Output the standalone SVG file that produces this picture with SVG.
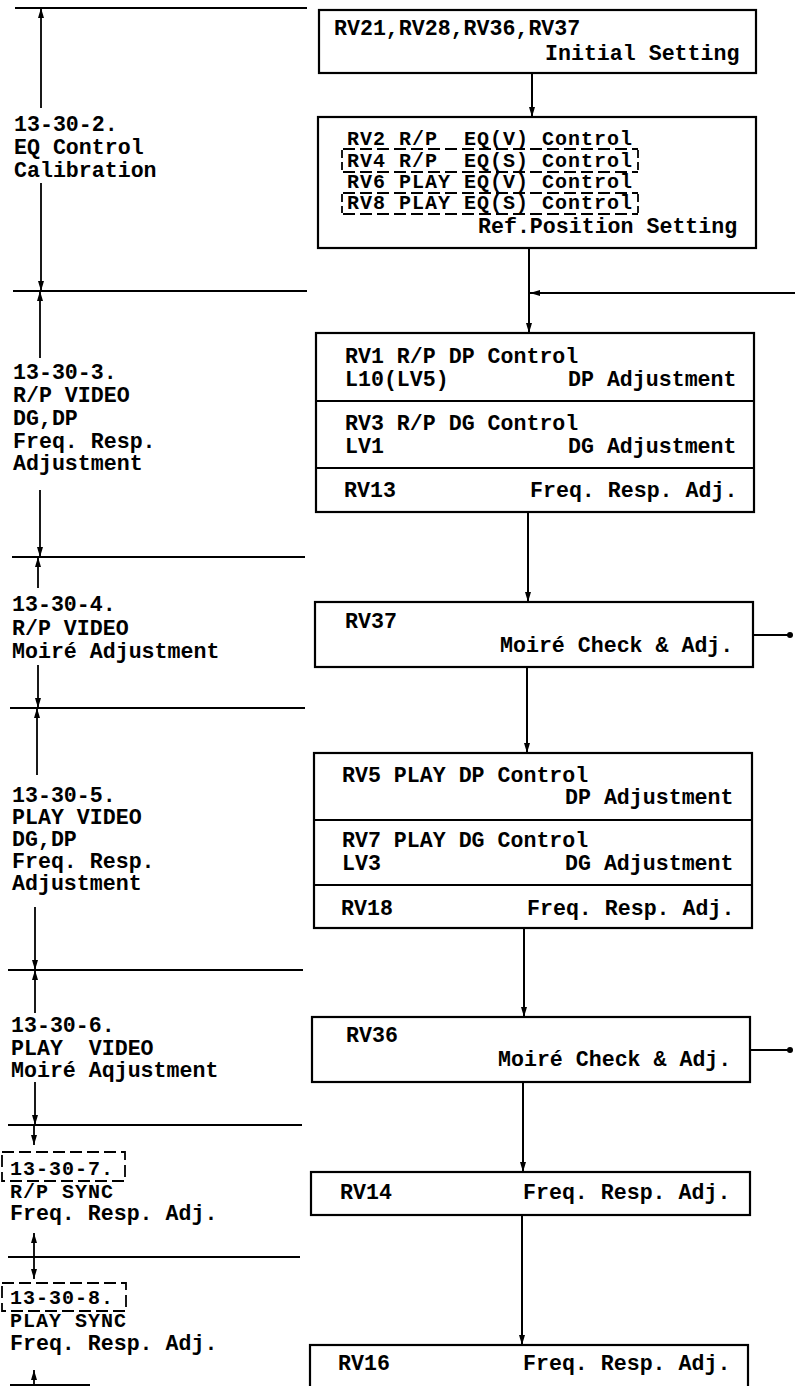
<svg xmlns="http://www.w3.org/2000/svg" width="795" height="1386" viewBox="0 0 795 1386">
<style>
text{font-family:"Liberation Mono","Courier New",monospace;font-size:21.6px;font-weight:bold;fill:#000;white-space:pre}
text.sm{font-size:20px;letter-spacing:1px}
.box{fill:#fff;stroke:#000;stroke-width:2.2}
.ln{stroke:#000;stroke-width:2;fill:none}
.dl{stroke:#000;stroke-width:1.8;fill:none}
.ds{stroke:#000;stroke-width:1.8;fill:none;stroke-dasharray:12 5}
</style>
<defs>
<marker id="ah" viewBox="0 0 10 6" markerWidth="11" markerHeight="6" refX="10" refY="3" orient="auto-start-reverse" markerUnits="userSpaceOnUse">
<path d="M0,0 L10,3 L0,6 z" fill="#000"/>
</marker>
<marker id="dot" viewBox="0 0 6 6" markerWidth="6" markerHeight="6" refX="3" refY="3" markerUnits="userSpaceOnUse">
<circle cx="3" cy="3" r="3" fill="#000"/>
</marker>
</defs>

<g id="left-scale">
<line class="dl" x1="15" y1="8" x2="307" y2="8"/>
<line class="dl" x1="13" y1="291" x2="307" y2="291"/>
<line class="dl" x1="12" y1="557" x2="305" y2="557"/>
<line class="dl" x1="10" y1="708" x2="305" y2="708"/>
<line class="dl" x1="8" y1="970" x2="303" y2="970"/>
<line class="dl" x1="8" y1="1125" x2="302" y2="1125"/>
<line class="dl" x1="8" y1="1257" x2="300" y2="1257"/>
<line class="dl" x1="10" y1="1385" x2="90" y2="1385"/>
<line class="dl" x1="41" y1="8" x2="41" y2="108" marker-start="url(#ah)"/>
<line class="dl" x1="41" y1="183" x2="41" y2="291" marker-end="url(#ah)"/>
<line class="dl" x1="40" y1="291" x2="40" y2="358" marker-start="url(#ah)"/>
<line class="dl" x1="40" y1="490" x2="40" y2="557" marker-end="url(#ah)"/>
<line class="dl" x1="38" y1="557" x2="38" y2="588" marker-start="url(#ah)"/>
<line class="dl" x1="38" y1="665" x2="38" y2="708" marker-end="url(#ah)"/>
<line class="dl" x1="37" y1="708" x2="37" y2="775" marker-start="url(#ah)"/>
<line class="dl" x1="35" y1="907" x2="35" y2="970" marker-end="url(#ah)"/>
<line class="dl" x1="35" y1="970" x2="35" y2="1013" marker-start="url(#ah)"/>
<line class="dl" x1="35" y1="1082" x2="35" y2="1125" marker-end="url(#ah)"/>
<line class="dl" x1="34" y1="1125" x2="34" y2="1145" marker-end="url(#ah)"/>
<line class="dl" x1="34" y1="1233" x2="34" y2="1257" marker-start="url(#ah)"/>
<line class="dl" x1="34" y1="1257" x2="34" y2="1279" marker-end="url(#ah)"/>
<line class="dl" x1="34" y1="1370" x2="34" y2="1386" marker-start="url(#ah)"/>
</g>

<g id="sec-13-30-2">
<text x="14" y="131">13-30-2.</text>
<text x="14" y="154">EQ Control</text>
<text x="14" y="177">Calibration</text>
</g>
<g id="sec-13-30-3">
<text x="13" y="379">13-30-3.</text>
<text x="13" y="402">R/P VIDEO</text>
<text x="13" y="425">DG,DP</text>
<text x="13" y="448">Freq. Resp.</text>
<text x="13" y="470">Adjustment</text>
</g>
<g id="sec-13-30-4">
<text x="12" y="611">13-30-4.</text>
<text x="12" y="635">R/P VIDEO</text>
<text x="12" y="658">Moiré Adjustment</text>
</g>
<g id="sec-13-30-5">
<text x="12" y="802">13-30-5.</text>
<text x="12" y="824">PLAY VIDEO</text>
<text x="12" y="846">DG,DP</text>
<text x="12" y="868">Freq. Resp.</text>
<text x="12" y="890">Adjustment</text>
</g>
<g id="sec-13-30-6">
<text x="11" y="1032">13-30-6.</text>
<text x="11" y="1055">PLAY  VIDEO</text>
<text x="11" y="1077">Moiré Aqjustment</text>
</g>
<g id="sec-13-30-7">
<rect class="ds" x="2" y="1152" width="123" height="29"/>
<text class="sm" x="10" y="1175">13-30-7.</text>
<text class="sm" x="10" y="1198">R/P SYNC</text>
<text x="10" y="1220">Freq. Resp. Adj.</text>
</g>
<g id="sec-13-30-8">
<rect class="ds" x="2" y="1283" width="124" height="28"/>
<text class="sm" x="10" y="1304">13-30-8.</text>
<text class="sm" x="10" y="1327">PLAY SYNC</text>
<text x="10" y="1350">Freq. Resp. Adj.</text>
</g>

<g id="connectors">
<line class="ln" x1="532" y1="73" x2="532" y2="117" marker-end="url(#ah)"/>
<line class="ln" x1="529" y1="248" x2="529" y2="333" marker-end="url(#ah)"/>
<line class="ln" x1="795" y1="293" x2="530" y2="293" marker-end="url(#ah)"/>
<line class="ln" x1="528" y1="512" x2="528" y2="602" marker-end="url(#ah)"/>
<line class="ln" x1="753" y1="635" x2="790" y2="635" marker-end="url(#dot)"/>
<line class="ln" x1="527" y1="667" x2="527" y2="753" marker-end="url(#ah)"/>
<line class="ln" x1="524" y1="928" x2="524" y2="1017" marker-end="url(#ah)"/>
<line class="ln" x1="750" y1="1050" x2="790" y2="1050" marker-end="url(#dot)"/>
<line class="ln" x1="523" y1="1082" x2="523" y2="1172" marker-end="url(#ah)"/>
<line class="ln" x1="522" y1="1215" x2="522" y2="1345" marker-end="url(#ah)"/>
</g>

<g id="box-initial">
<rect class="box" x="319" y="10" width="437" height="63"/>
<text x="334" y="35">RV21,RV28,RV36,RV37</text>
<text x="545" y="60">Initial Setting</text>
</g>

<g id="box-eq">
<rect class="box" x="318" y="117" width="438" height="131"/>
<text class="sm" x="347" y="145">RV2 R/P  EQ(V) Control</text>
<text class="sm" x="347" y="167">RV4 R/P  EQ(S) Control</text>
<text class="sm" x="347" y="188">RV6 PLAY EQ(V) Control</text>
<text class="sm" x="347" y="209">RV8 PLAY EQ(S) Control</text>
<text x="478" y="233">Ref.Position Setting</text>
<line class="ds" x1="343" y1="149" x2="638" y2="149"/>
<line class="ds" x1="343" y1="172" x2="638" y2="172"/>
<line class="ds" x1="343" y1="193" x2="638" y2="193"/>
<line class="ds" x1="343" y1="214" x2="638" y2="214"/>
<line class="dl" x1="342" y1="150" x2="342" y2="171" stroke-dasharray="8 4"/>
<line class="dl" x1="638" y1="150" x2="638" y2="171" stroke-dasharray="8 4"/>
<line class="dl" x1="342" y1="194" x2="342" y2="213" stroke-dasharray="8 4"/>
<line class="dl" x1="638" y1="194" x2="638" y2="213" stroke-dasharray="8 4"/>
</g>

<g id="box-rp-video">
<rect class="box" x="316" y="333" width="438" height="179"/>
<line class="ln" x1="316" y1="401" x2="754" y2="401"/>
<line class="ln" x1="316" y1="468" x2="754" y2="468"/>
<text x="345" y="363">RV1 R/P DP Control</text>
<text x="345" y="386">L10(LV5)</text>
<text x="568" y="386">DP Adjustment</text>
<text x="345" y="430">RV3 R/P DG Control</text>
<text x="345" y="453">LV1</text>
<text x="568" y="453">DG Adjustment</text>
<text x="344" y="497">RV13</text>
<text x="530" y="497">Freq. Resp. Adj.</text>
</g>

<g id="box-rv37">
<rect class="box" x="315" y="602" width="438" height="65"/>
<text x="345" y="628">RV37</text>
<text x="500" y="652">Moiré Check &amp; Adj.</text>
</g>

<g id="box-play-video">
<rect class="box" x="314" y="753" width="438" height="175"/>
<line class="ln" x1="314" y1="820" x2="752" y2="820"/>
<line class="ln" x1="314" y1="885" x2="752" y2="885"/>
<text x="342" y="782">RV5 PLAY DP Control</text>
<text x="565" y="804">DP Adjustment</text>
<text x="342" y="847">RV7 PLAY DG Control</text>
<text x="342" y="870">LV3</text>
<text x="565" y="870">DG Adjustment</text>
<text x="341" y="915">RV18</text>
<text x="527" y="915">Freq. Resp. Adj.</text>
</g>

<g id="box-rv36">
<rect class="box" x="312" y="1017" width="438" height="65"/>
<text x="346" y="1042">RV36</text>
<text x="498" y="1066">Moiré Check &amp; Adj.</text>
</g>

<g id="box-rv14">
<rect class="box" x="311" y="1172" width="439" height="43"/>
<text x="340" y="1199">RV14</text>
<text x="523" y="1199">Freq. Resp. Adj.</text>
</g>

<g id="box-rv16">
<rect class="box" x="310" y="1345" width="438" height="60"/>
<text x="338" y="1370">RV16</text>
<text x="523" y="1370">Freq. Resp. Adj.</text>
</g>
</svg>
